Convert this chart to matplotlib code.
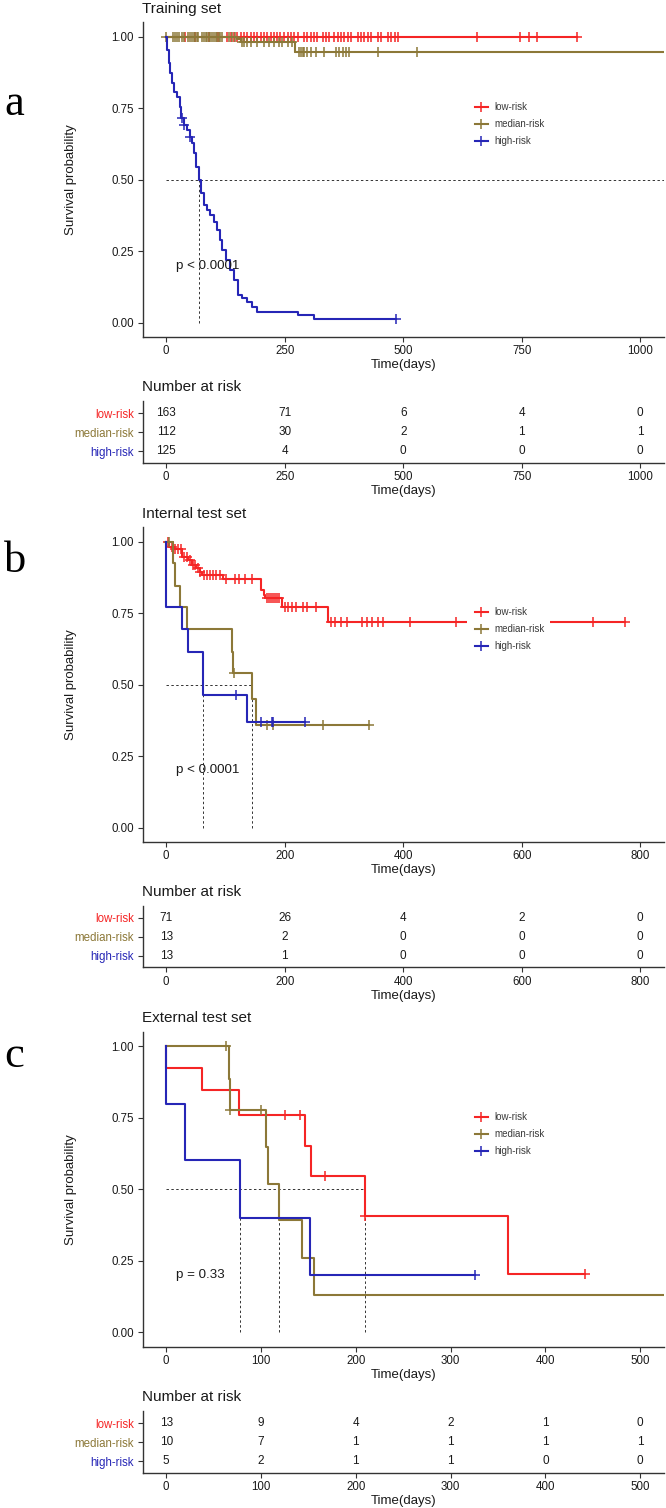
import numpy as np
import matplotlib
matplotlib.use("Agg")
import matplotlib.pyplot as plt
from matplotlib.patches import Rectangle

plt.rcParams['font.family'] = ['Liberation Sans', 'DejaVu Sans']

# colours / strata
strata = ['low-risk', 'median-risk', 'high-risk']
colors = ['#F52525', '#8C7838', '#2626B6']

# ---------------- panel a : training set ----------------
a_low_t = [0, 867]
a_low_s = [1.0, 1.0]
a_low_cens = [40, 60, 90, 110, 128, 136, 143, 150, 157, 164, 171, 178, 185, 192, 199, 206, 213,
              220, 227, 234, 241, 248, 256, 263, 270, 277, 291, 298, 305, 312, 319, 330, 337,
              344, 354, 362, 369, 376, 383, 390, 404, 411, 418, 425, 432, 446, 453, 468, 475,
              482, 489, 656, 746, 766, 782, 867]
a_med_t = [0, 150, 157, 271, 1100]
a_med_s = [1.0, 0.991, 0.980, 0.945, 0.945]
a_med_cens = [0, 15, 19, 23, 26, 33, 37, 47, 51, 54, 58, 61, 65, 68, 76, 79, 83, 86, 90, 93, 97,
              100, 104, 107, 111, 114, 118, 132, 139, 146, 160, 164, 171, 178, 192, 206, 217,
              227, 238, 245, 256, 266, 280, 284, 288, 291, 298, 305, 316, 333, 358, 365, 372,
              379, 386, 446, 530]
a_high_t = [0, 1.4, 4.9, 8.5, 12, 17, 22.6, 28.2, 31, 36.7, 43.8, 49.4, 54.4, 59.3, 63.6, 68.5,
            73.5, 79, 86, 93, 100, 107, 113, 118, 127, 135.6, 142.6, 151, 160, 171, 181.5, 192,
            277, 311, 485]
a_high_s = [1.0, 0.953, 0.907, 0.872, 0.837, 0.808, 0.790, 0.755, 0.715, 0.691, 0.674, 0.650,
            0.627, 0.592, 0.545, 0.499, 0.452, 0.412, 0.394, 0.377, 0.353, 0.324, 0.289, 0.254,
            0.219, 0.184, 0.149, 0.097, 0.085, 0.073, 0.056, 0.038, 0.027, 0.012, 0.012]
a_high_cens = [33, 37, 51, 485]
a_median = [68.5]
a_ticks = [0, 250, 500, 750, 1000]
a_risk = [[163, 71, 6, 4, 0], [112, 30, 2, 1, 1], [125, 4, 0, 0, 0]]

# ---------------- panel b : internal test set ----------------
b_low_t = [0, 4.9, 12.9, 25.2, 27.3, 36, 43.2, 50.4, 56.2, 61.2, 95.1, 160.8, 164.4, 167.3,
           196, 272.5, 775]
b_low_s = [1.0, 0.983, 0.973, 0.973, 0.948, 0.936, 0.919, 0.907, 0.895, 0.884, 0.868, 0.831,
           0.815, 0.802, 0.773, 0.720, 0.720]
b_low_cens = [3.5, 9.3, 14.3, 20.1, 25.2, 30.2, 34.5, 39.6, 44.6, 48.9, 54, 57.6, 63.4, 68.5,
              73.5, 79.3, 84.3, 90, 100.8, 115.3, 122.5, 133.4, 144.2, 169.5, 173, 176.6, 180.2,
              183.9, 187.5, 191, 200.5, 205.5, 212.7, 219.8, 230.7, 238, 252.4, 277.6, 284.7,
              295.6, 304.3, 330.3, 339, 347.6, 356.9, 366.3, 411, 489, 721, 775]
b_med_t = [0, 10.7, 14.3, 23, 34.5, 110.3, 113.2, 144.2, 151.4, 342.5]
b_med_s = [1.0, 0.924, 0.845, 0.771, 0.694, 0.615, 0.540, 0.449, 0.359, 0.359]
b_med_cens = [5, 114, 169.5, 180.2, 265.4, 342.5]
b_high_t = [0, 0, 27.3, 36, 62.7, 135.6, 234.4]
b_high_s = [1.0, 0.771, 0.694, 0.615, 0.464, 0.371, 0.371]
b_high_cens = [117.5, 160, 178, 180, 234.4]
b_median = [62.7, 144.2]
b_ticks = [0, 200, 400, 600, 800]
b_risk = [[71, 26, 4, 2, 0], [13, 2, 0, 0, 0], [13, 1, 0, 0, 0]]

# ---------------- panel c : external test set ----------------
c_low_t = [0, 0, 38.1, 76.3, 146, 152.7, 209.8, 360.3, 441.7]
c_low_s = [1.0, 0.924, 0.846, 0.761, 0.653, 0.545, 0.407, 0.204, 0.204]
c_low_cens = [67.4, 125.8, 141.5, 167.1, 209.8, 441.7]
c_med_t = [0, 66, 67.8, 105.6, 107, 119, 143.6, 155.9, 560]
c_med_s = [1.0, 0.887, 0.778, 0.648, 0.519, 0.391, 0.259, 0.131, 0.131]
c_med_cens = [62.8, 67.8, 99.7]
c_high_t = [0, 0, 20.2, 77.7, 151.4, 325.7]
c_high_s = [1.0, 0.799, 0.601, 0.399, 0.200, 0.200]
c_high_cens = [325.7]
c_median = [77.7, 119, 209.8]
c_ticks = [0, 100, 200, 300, 400, 500]
c_risk = [[13, 9, 4, 2, 1, 0], [10, 7, 1, 1, 1, 1], [5, 2, 1, 1, 0, 0]]

panels = [
    dict(letter='a', title='Training set', pval='p < 0.0001', xmax=1000,
         curves=[(a_low_t, a_low_s, a_low_cens), (a_med_t, a_med_s, a_med_cens),
                 (a_high_t, a_high_s, a_high_cens)],
         median=a_median, hfull=True, ticks=a_ticks, risk=a_risk, cover=False),
    dict(letter='b', title='Internal test set', pval='p < 0.0001', xmax=800,
         curves=[(b_low_t, b_low_s, b_low_cens), (b_med_t, b_med_s, b_med_cens),
                 (b_high_t, b_high_s, b_high_cens)],
         median=b_median, hfull=False, ticks=b_ticks, risk=b_risk, cover=True),
    dict(letter='c', title='External test set', pval='p = 0.33', xmax=500,
         curves=[(c_low_t, c_low_s, c_low_cens), (c_med_t, c_med_s, c_med_cens),
                 (c_high_t, c_high_s, c_high_cens)],
         median=c_median, hfull=False, ticks=c_ticks, risk=c_risk, cover=False),
]

W, H = 666, 1508
fig = plt.figure(figsize=(W / 100, H / 100), dpi=100)

LEFT = 142.5 / W
WIDTH = (664 - 142.5) / W
km_bottom_px = [337, 842, 1346.6]
tab_bottom_px = [462.7, 967.3, 1472.7]
letter_base_px = [115, 572, 1067]
AX_COL = '#333333'
TXT_COL = '#1a1a1a'


def style_axes(ax):
    for s in ['top', 'right']:
        ax.spines[s].set_visible(False)
    for s in ['left', 'bottom']:
        ax.spines[s].set_color(AX_COL)
        ax.spines[s].set_linewidth(1.0)
    ax.tick_params(axis='both', length=3.5, width=0.8, color=AX_COL, labelsize=8.3,
                   labelcolor=TXT_COL, pad=2.5)


for i, p in enumerate(panels):
    xmax = p['xmax']
    xlim = (-0.05 * xmax, 1.05 * xmax)

    # ---- survival curves
    ax = fig.add_axes([LEFT, 1 - km_bottom_px[i] / H, WIDTH, 314.6 / H])
    style_axes(ax)
    ax.set_xlim(*xlim)
    ax.set_ylim(-0.05, 1.05)
    ax.set_yticks([0, 0.25, 0.5, 0.75, 1.0])
    ax.set_yticklabels(['0.00', '0.25', '0.50', '0.75', '1.00'])
    ax.set_xticks(p['ticks'])

    for (t, s, cens), col in zip(p['curves'], colors):
        t = np.array(t, float)
        s = np.array(s, float)
        ax.step(t, s, where='post', color=col, lw=1.5, zorder=3)
        c = np.array(cens, float)
        idx = np.searchsorted(t, c, side='right') - 1
        ax.plot(c, s[idx], ls='none', marker='+', ms=6.5, mew=1.1, color=col, zorder=3)

    # median survival lines
    hx = xlim[1] if p['hfull'] else max(p['median'])
    ax.plot([0, hx], [0.5, 0.5], ls=(0, (2.5, 2.5)), lw=0.7, color='#333333', zorder=2)
    for m in p['median']:
        ax.plot([m, m], [0, 0.5], ls=(0, (2.5, 2.5)), lw=0.7, color='#333333', zorder=2)

    ax.text(0.02 * xmax, 0.2, p['pval'], fontsize=9.6, color=TXT_COL, va='center', ha='left',
            zorder=6)

    ax.set_xlabel('Time(days)', fontsize=9.5, color=TXT_COL, labelpad=1.5)
    ax.set_ylabel('Survival probability', fontsize=9.5, color=TXT_COL)
    ax.yaxis.set_label_coords(-0.126, 0.5)

    # legend drawn by hand so it sits where the original does
    tr = ax.get_yaxis_transform()
    if p['cover']:
        ax.add_patch(Rectangle((0.623, 0.60), 0.158, 0.19, transform=tr, fc='white',
                               ec='none', zorder=4))
    for k, (name, col) in enumerate(zip(strata, colors)):
        yy = [0.753, 0.694, 0.635][k]
        ax.plot([0.638, 0.662], [yy, yy], transform=tr, color=col, lw=1.5, zorder=5)
        ax.plot([0.650], [yy], transform=tr, color=col, marker='+', ms=6.5, mew=1.1, zorder=5)
        ax.text(0.674, yy, name, transform=tr, fontsize=7, color='#3a3a3a', va='center',
                ha='left', zorder=5)

    top_px = km_bottom_px[i] - 314.6
    fig.text(LEFT, 1 - (top_px - 13.5) / H, p['title'], fontsize=11, color=TXT_COL,
             va='center', ha='left')
    fig.text(4 / W, 1 - letter_base_px[i] / H, p['letter'], fontsize=32,
             family=['Liberation Serif', 'DejaVu Serif'], va='baseline', ha='left')

    # ---- number at risk table
    tb = fig.add_axes([LEFT, 1 - tab_bottom_px[i] / H, WIDTH, 61.7 / H])
    style_axes(tb)
    tb.set_xlim(*xlim)
    tb.set_ylim(0.4, 3.65)
    tb.set_xticks(p['ticks'])
    tb.set_yticks([3, 2, 1])
    tb.set_yticklabels(strata)
    for lab, col in zip(tb.get_yticklabels(), colors):
        lab.set_color(col)
    for r, row in enumerate(p['risk']):
        for tk, n in zip(p['ticks'], row):
            tb.text(tk, 3 - r, str(n), fontsize=8.5, color=TXT_COL, ha='center', va='center')
    tb.set_xlabel('Time(days)', fontsize=9.5, color=TXT_COL, labelpad=1.5)
    fig.text(LEFT, 1 - (tab_bottom_px[i] - 61.7 - 14) / H, 'Number at risk', fontsize=11,
             color=TXT_COL, va='center', ha='left')

fig.savefig('out.png', dpi=100)
